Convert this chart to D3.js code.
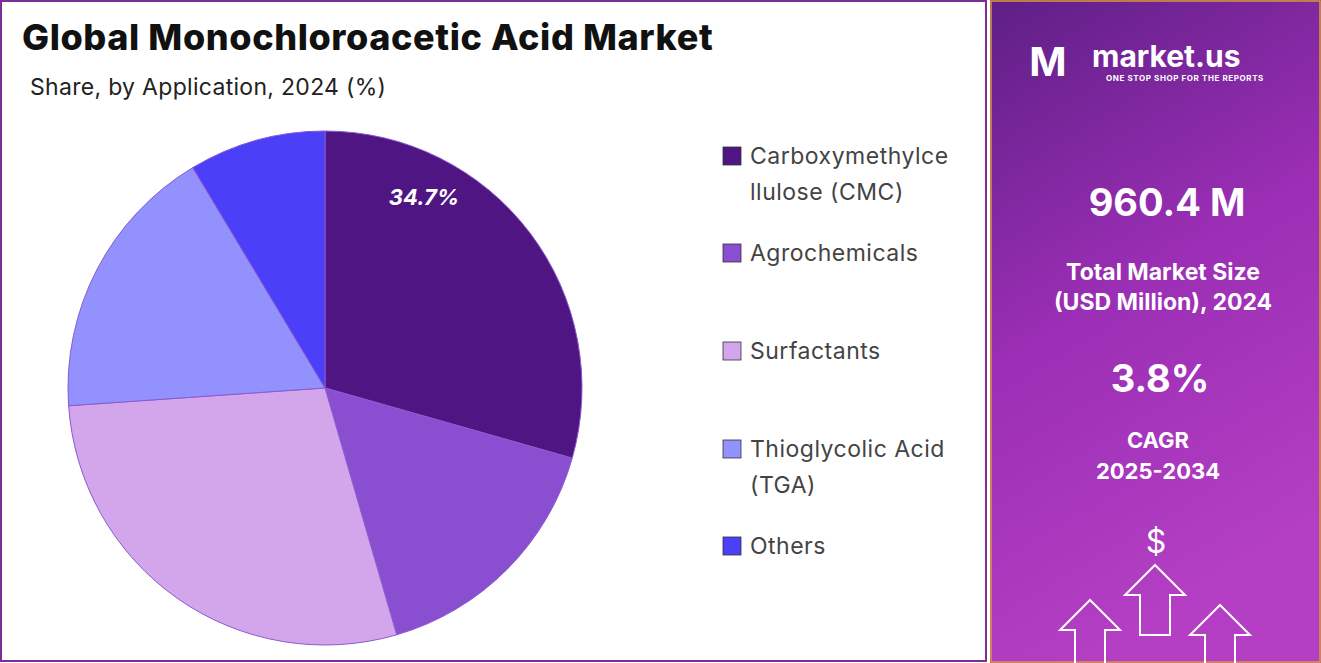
<!DOCTYPE html>
<html><head><meta charset="utf-8">
<script src="https://cdn.jsdelivr.net/npm/d3@7"></script>
<style>body{margin:0;background:#fff;font-family:Inter,"Noto Sans",sans-serif}</style>
</head><body><svg id="chart" width="1321" height="663"></svg>
<script>
// Application shares (slice sizes; label as printed)
const categories = ["Carboxymethylce|llulose (CMC)", "Agrochemicals", "Surfactants", "Thioglycolic Acid|(TGA)", "Others"];
const shares = [29.4, 16.1, 28.4, 17.5, 8.6];
const colors = ["#4f1582", "#8a4fd0", "#d3a6ec", "#9391fd", "#4b3ff8"];
const shownLabel = "34.7%";

const svg = d3.select("#chart");

// left panel frame
svg.append("rect").attr("x", 1).attr("y", 1).attr("width", 985).attr("height", 660)
    .attr("fill", "#fff").attr("stroke", "#7b2d9a").attr("stroke-width", 2);

svg.append("text").attr("x", 22).attr("y", 50).text("Global Monochloroacetic Acid Market")
    .attr("font-size", 36).attr("font-weight", 800).attr("letter-spacing", 0.6).attr("fill", "#111");
svg.append("text").attr("x", 30).attr("y", 95).text("Share, by Application, 2024 (%)")
    .attr("font-size", 23).attr("letter-spacing", 0.3).attr("fill", "#222");

// pie
const pie = d3.pie().sort(null).value(d => d);
const arc = d3.arc().innerRadius(0).outerRadius(257);
const g = svg.append("g").attr("transform", "translate(325,388)");
const arcs = pie(shares);
g.selectAll("path").data(arcs).enter().append("path")
    .attr("d", arc).attr("fill", (d, i) => colors[i])
    .attr("stroke", "#8a5ad0").attr("stroke-width", 1);
g.append("text").attr("x", 99).attr("y", -183).attr("text-anchor", "middle")
    .text(shownLabel).attr("font-size", 22).attr("font-weight", 700)
    .attr("font-style", "italic").attr("fill", "#fff");

// legend
const legendY = [157, 254, 352, 450, 547];
const leg = svg.append("g");
categories.forEach((name, i) => {
    leg.append("rect").attr("x", 723).attr("y", legendY[i] - 10).attr("width", 18).attr("height", 18)
        .attr("fill", colors[i]).attr("stroke", "#333").attr("stroke-width", 0.8);
    name.split("|").forEach((line, j) => {
        leg.append("text").attr("x", 750).attr("y", legendY[i] + 7 + j * 36).text(line)
            .attr("font-size", 23).attr("letter-spacing", 0.5).attr("fill", "#444");
    });
});

// right panel
const defs = svg.append("defs");
const grad = defs.append("linearGradient").attr("id", "bg").attr("x1", 0).attr("y1", 0).attr("x2", 0.3).attr("y2", 1);
grad.append("stop").attr("offset", 0).attr("stop-color", "#5e1f86");
grad.append("stop").attr("offset", 0.5).attr("stop-color", "#9a2eb4");
grad.append("stop").attr("offset", 1).attr("stop-color", "#b43fc4");
svg.append("rect").attr("x", 990).attr("y", 0).attr("width", 331).attr("height", 663).attr("fill", "url(#bg)");
svg.append("rect").attr("x", 991).attr("y", 1).attr("width", 329).attr("height", 661)
    .attr("fill", "none").attr("stroke", "#d89a3a").attr("stroke-width", 1.5);

const rp = svg.append("g").attr("fill", "#fff").attr("text-anchor", "middle").attr("font-weight", 700);
rp.append("text").attr("x", 1092).attr("y", 67).text("market.us").attr("font-size", 30).attr("text-anchor", "start");
rp.append("text").attr("x", 1185).attr("y", 81).text("ONE STOP SHOP FOR THE REPORTS").attr("font-size", 8).attr("letter-spacing", 0.6);
rp.append("text").attr("x", 1048).attr("y", 76).text("M").attr("font-size", 40);
rp.append("text").attr("x", 1167).attr("y", 216).text("960.4 M").attr("font-size", 38);
rp.append("text").attr("x", 1163).attr("y", 280).text("Total Market Size").attr("font-size", 23);
rp.append("text").attr("x", 1163).attr("y", 310).text("(USD Million), 2024").attr("font-size", 23);
rp.append("text").attr("x", 1160).attr("y", 392).text("3.8%").attr("font-size", 38);
rp.append("text").attr("x", 1158).attr("y", 448).text("CAGR").attr("font-size", 22);
rp.append("text").attr("x", 1158).attr("y", 479).text("2025-2034").attr("font-size", 22);
rp.append("text").attr("x", 1156).attr("y", 553).text("$").attr("font-size", 32).attr("font-weight", 400);
// arrows
[[1090, 600], [1155, 565], [1220, 605]].forEach(([x, y]) => {
    svg.append("path").attr("d", `M${x},${y} l-30,30 h15 v40 h30 v-40 h15 z`)
        .attr("fill", "none").attr("stroke", "#fff").attr("stroke-width", 2);
});
</script></body></html>
